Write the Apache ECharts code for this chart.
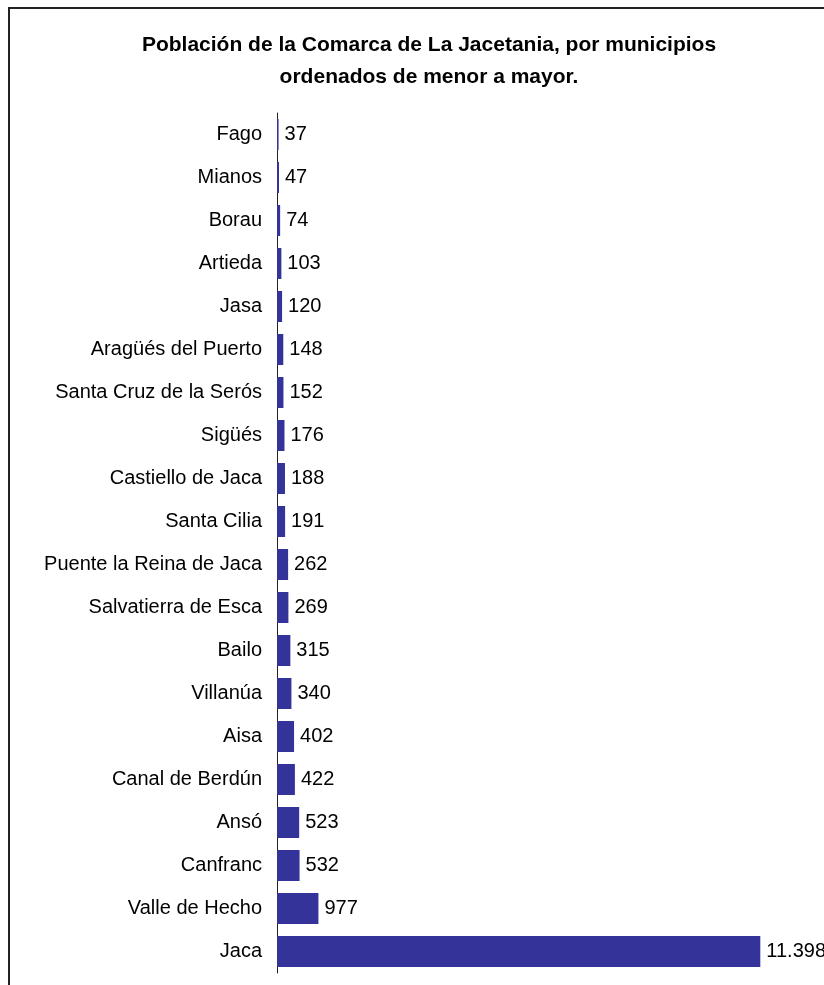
<!DOCTYPE html>
<html lang="es">
<head>
    <meta charset="UTF-8">
    <title>Población de la Comarca de La Jacetania</title>
    <style>
        html, body { margin: 0; padding: 0; background: #fff; }
    </style>
</head>
<body>
<div id="myChart" style="width: 824px;height: 985px;"></div>
<script src="https://cdn.jsdelivr.net/npm/echarts@6/dist/echarts.min.js"></script>
<script>
    // municipios, de menor a mayor
    let municipios = [
        "Fago", "Mianos", "Borau", "Artieda", "Jasa", "Aragüés del Puerto",
        "Santa Cruz de la Serós", "Sigüés", "Castiello de Jaca", "Santa Cilia",
        "Puente la Reina de Jaca", "Salvatierra de Esca", "Bailo", "Villanúa",
        "Aisa", "Canal de Berdún", "Ansó", "Canfranc", "Valle de Hecho", "Jaca"
    ];
    let poblacion = [
        37, 47, 74, 103, 120, 148,
        152, 176, 188, 191,
        262, 269, 315, 340,
        402, 422, 523, 532, 977, 11398
    ];
    let titulo = "Población de la Comarca de La Jacetania, por municipios\nordenados de menor a mayor.";

    // separador de miles con punto
    function fmt(v) {
        return String(v).replace(/\B(?=(\d{3})+(?!\d))/g, ".");
    }

    var myChart = echarts.init(document.querySelector("#myChart"));
    var fuente = "Liberation Sans, Arial, sans-serif";

    option = {
        backgroundColor: "#fff",
        animation: false,
        title: {
            text: titulo,
            left: 424,
            top: 24,
            textAlign: "center",
            textStyle: {
                fontFamily: fuente,
                fontSize: 21,
                fontWeight: "bold",
                color: "#000",
                lineHeight: 32
            }
        },
        graphic: [
            {
                type: "rect",
                shape: { x: 9, y: 8, width: 1000, height: 1100 },
                style: { fill: null, stroke: "#222", lineWidth: 2 },
                silent: true
            }
        ],
        grid: {
            left: 277,
            right: 0,
            top: 113,
            bottom: 12
        },
        xAxis: {
            type: "value",
            min: 0,
            max: 12900,
            show: false
        },
        yAxis: {
            type: "category",
            inverse: true,
            data: municipios,
            axisLine: { show: true, lineStyle: { color: "#222", width: 1 } },
            axisTick: { show: false },
            axisLabel: {
                margin: 15,
                fontFamily: fuente,
                fontSize: 20,
                color: "#000"
            }
        },
        series: [
            {
                type: "bar",
                data: poblacion,
                barCategoryGap: "28%",
                itemStyle: { color: "#333399" },
                label: {
                    show: true,
                    position: "right",
                    distance: 6,
                    fontFamily: fuente,
                    fontSize: 20,
                    color: "#000",
                    formatter: function (p) { return fmt(p.value); }
                }
            }
        ]
    };
    myChart.setOption(option);
</script>
</body>
</html>
